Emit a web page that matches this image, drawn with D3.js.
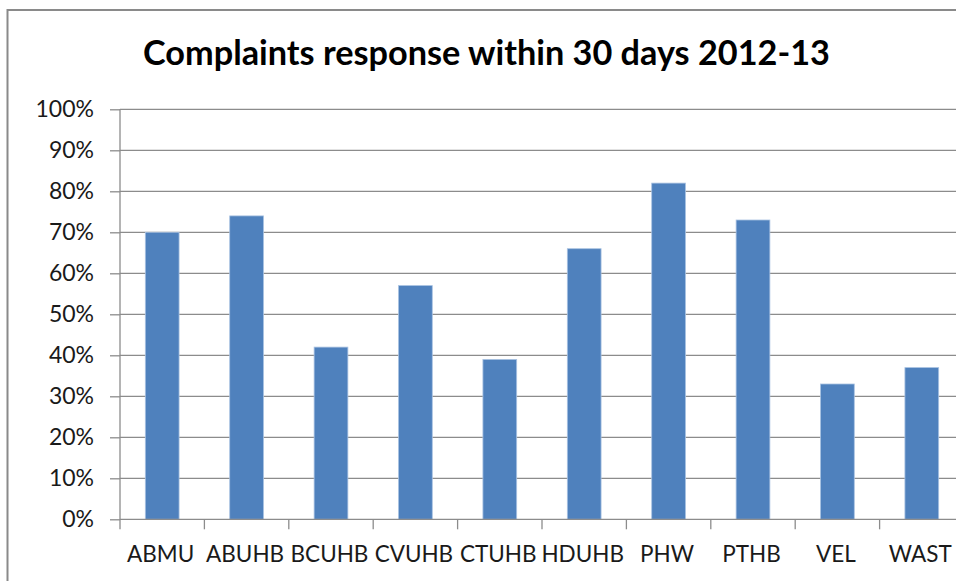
<!DOCTYPE html>
<html>
<head>
<meta charset="utf-8">
<script src="https://cdn.jsdelivr.net/npm/d3@7"></script>
<style>
  html, body { margin: 0; padding: 0; background: #fff; overflow: hidden; }
  text { font-family: Lato, "Open Sans", sans-serif; }
</style>
</head>
<body>
<svg id="chart" width="956" height="581"></svg>
<script>
// chart data
const categories = ["ABMU", "ABUHB", "BCUHB", "CVUHB", "CTUHB", "HDUHB", "PHW", "PTHB", "VEL", "WAST"];
const responseRate = [0.70, 0.74, 0.42, 0.57, 0.39, 0.66, 0.82, 0.73, 0.33, 0.37];
const yTicks = [0, 0.1, 0.2, 0.3, 0.4, 0.5, 0.6, 0.7, 0.8, 0.9, 1.0];
const chartTitle = "Complaints response within 30 days 2012-13";

const svg = d3.select("#chart");

// plot area (the original image is cropped on the right, so the plot runs past the edge)
const plotLeft = 120, plotTop = 109.3, plotBottom = 519.3;
const bandWidth = 84.4;
const plotRight = plotLeft + bandWidth * categories.length;

// outer chart frame, only top and left edges are visible in the picture
svg.append("rect")
  .attr("x", 7.5)
  .attr("y", 10)
  .attr("width", 1000)
  .attr("height", 1000)
  .attr("fill", "#fff")
  .attr("stroke", "#8a8a8a")
  .attr("stroke-width", 2);

const x = d3.scaleBand()
  .domain(categories)
  .range([plotLeft, plotRight])
  .paddingInner(0.6)
  .paddingOuter(0.3);

const y = d3.scaleLinear()
  .domain([0, 1])
  .range([plotBottom, plotTop]);

// gridlines
svg.append("g")
  .selectAll("line")
  .data(yTicks.slice(1))
  .enter()
  .append("line")
  .attr("x1", plotLeft)
  .attr("x2", plotRight)
  .attr("y1", d => y(d))
  .attr("y2", d => y(d))
  .attr("stroke", "#8c8c8c")
  .attr("stroke-width", 1.3);

// bars
svg.append("g")
  .selectAll("rect")
  .data(categories)
  .enter()
  .append("rect")
  .attr("x", d => x(d))
  .attr("y", (d, i) => y(responseRate[i]))
  .attr("width", x.bandwidth())
  .attr("height", (d, i) => plotBottom - y(responseRate[i]))
  .attr("fill", "#4f81bd")
  .attr("stroke", "#a9c2e2")
  .attr("stroke-width", 0.8);

// y axis
const yAxis = d3.axisLeft(y)
  .tickValues(yTicks)
  .tickFormat(d3.format(".0%"))
  .tickSize(10)
  .tickPadding(16);

svg.append("g")
  .attr("transform", `translate(${plotLeft},0)`)
  .call(yAxis)
  .call(g => g.selectAll("path, line").attr("stroke", "#8c8c8c").attr("stroke-width", 1.3))
  .call(g => g.select(".domain").attr("d", `M0,${plotTop}V${plotBottom}`))
  .call(g => g.selectAll("text")
    .attr("fill", "#1a1a1a")
    .style("font-family", "Lato, sans-serif")
    .style("font-size", "23px"));

// x axis: ticks sit on band boundaries, labels in band centres
const boundaries = d3.range(categories.length + 1).map(i => plotLeft + i * bandWidth);
const xAxisG = svg.append("g");

xAxisG.append("line")
  .attr("x1", plotLeft)
  .attr("x2", plotRight)
  .attr("y1", plotBottom)
  .attr("y2", plotBottom)
  .attr("stroke", "#8c8c8c")
  .attr("stroke-width", 1.3);

xAxisG.selectAll(".xtick")
  .data(boundaries)
  .enter()
  .append("line")
  .attr("class", "xtick")
  .attr("x1", d => d)
  .attr("x2", d => d)
  .attr("y1", plotBottom)
  .attr("y2", plotBottom + 10)
  .attr("stroke", "#8c8c8c")
  .attr("stroke-width", 1.3);

xAxisG.selectAll(".xlabel")
  .data(categories)
  .enter()
  .append("text")
  .attr("class", "xlabel")
  .attr("x", d => x(d) + x.bandwidth() / 2 - 1.5)
  .attr("y", 562)
  .attr("text-anchor", "middle")
  .attr("fill", "#1a1a1a")
  .style("font-size", "22.5px")
  .text(d => d);

// title, sized to the width it has in the reference
const title = svg.append("text")
  .attr("x", 486.5)
  .attr("y", 65)
  .attr("text-anchor", "middle")
  .attr("fill", "#000")
  .style("font-weight", "bold")
  .style("font-size", "30px")
  .text(chartTitle);

const tw = title.node().getComputedTextLength();
title.style("font-size", (30 * 687 / tw) + "px");
</script>
</body>
</html>
